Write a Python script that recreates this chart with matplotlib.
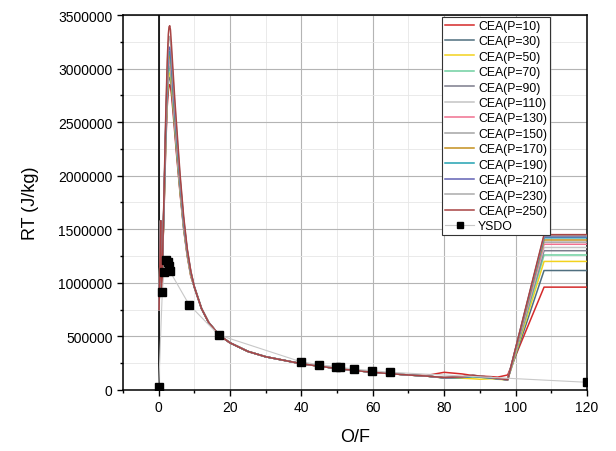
import matplotlib
matplotlib.use("Agg")
import matplotlib.pyplot as plt
from matplotlib.ticker import MultipleLocator, FuncFormatter
from matplotlib.lines import Line2D

plt.rcParams['font.family'] = ['Liberation Sans', 'DejaVu Sans']

# ---------------- data ----------------
pressures = [10, 30, 50, 70, 90, 110, 130, 150, 170, 190, 210, 230, 250]
colors = ['#d42a2a', '#4f6f7f', '#f2d21e', '#6fd0a0', '#7c7c8c', '#c4c4c4',
          '#f07090', '#a4a4a4', '#c4901e', '#22a2b2', '#6262b4', '#ababab',
          '#a84444']

# O/F grid pieces shared by every CEA series
of_low = [0.1, 0.3, 0.55, 0.7, 0.9, 1.1]
of_peak = [1.5, 2.0, 2.4, 2.7, 2.9, 3.1, 3.3, 3.6, 4.0, 4.5, 5.0, 6.0, 7.0, 8.0, 9.0]
of_decay = [10, 12, 14, 17, 20, 25, 30, 40, 50, 60, 70]
of_tail = [75, 80, 85, 88, 90, 93, 95, 97.8]
of_plateau = [108, 120]

# RT values (J/kg)
rt_low = [750000, 1150000, 1580000, 1050000, 920000, 1250000]
rt_decay = [960000, 760000, 630000, 510000, 440000,
            360000, 310000, 245000, 200000, 165000, 140000]

rt_peak = {
    10:  [1680000, 2300000, 2650000, 2790000, 2840000, 2850000, 2830000, 2750000, 2600000, 2400000, 2200000, 1830000, 1500000, 1250000, 1060000],
    30:  [1700000, 2350000, 2710000, 2860000, 2910000, 2920000, 2900000, 2810000, 2650000, 2440000, 2230000, 1850000, 1510000, 1260000, 1070000],
    50:  [1720000, 2380000, 2750000, 2900000, 2950000, 2960000, 2940000, 2850000, 2680000, 2470000, 2260000, 1860000, 1520000, 1260000, 1070000],
    70:  [1730000, 2400000, 2780000, 2940000, 2990000, 3000000, 2980000, 2880000, 2710000, 2490000, 2280000, 1880000, 1530000, 1270000, 1080000],
    90:  [1740000, 2420000, 2810000, 2980000, 3030000, 3040000, 3010000, 2910000, 2740000, 2510000, 2300000, 1890000, 1540000, 1270000, 1080000],
    110: [1750000, 2430000, 2830000, 3000000, 3050000, 3060000, 3030000, 2930000, 2760000, 2530000, 2310000, 1900000, 1550000, 1280000, 1080000],
    130: [1760000, 2440000, 2840000, 3020000, 3070000, 3080000, 3050000, 2950000, 2770000, 2540000, 2320000, 1910000, 1550000, 1280000, 1090000],
    150: [1770000, 2450000, 2860000, 3040000, 3090000, 3100000, 3070000, 2970000, 2790000, 2560000, 2340000, 1920000, 1560000, 1290000, 1090000],
    170: [1780000, 2460000, 2880000, 3070000, 3120000, 3130000, 3100000, 2990000, 2810000, 2570000, 2350000, 1930000, 1570000, 1290000, 1090000],
    190: [1790000, 2480000, 2900000, 3100000, 3150000, 3160000, 3130000, 3020000, 2830000, 2590000, 2370000, 1940000, 1570000, 1300000, 1100000],
    210: [1800000, 2500000, 2930000, 3140000, 3190000, 3200000, 3170000, 3050000, 2860000, 2610000, 2390000, 1950000, 1580000, 1300000, 1100000],
    230: [1820000, 2550000, 3000000, 3230000, 3290000, 3300000, 3260000, 3130000, 2920000, 2660000, 2430000, 1980000, 1600000, 1310000, 1110000],
    250: [1850000, 2600000, 3080000, 3320000, 3390000, 3400000, 3360000, 3210000, 2990000, 2720000, 2480000, 2010000, 1620000, 1320000, 1110000],
}

rt_tail = {
    10:  [135000, 165000, 150000, 135000, 130000, 125000, 120000, 140000],
    30:  [130000, 115000, 120000, 130000, 125000, 115000, 105000, 100000],
    50:  [130000, 112000, 110000, 105000, 100000, 105000, 100000, 95000],
    70:  [130000, 114000, 118000, 125000, 120000, 112000, 105000, 96000],
    90:  [130000, 115000, 122000, 138000, 130000, 118000, 108000, 96000],
    110: [130000, 115000, 120000, 132000, 126000, 116000, 106000, 95000],
    130: [130000, 116000, 121000, 134000, 128000, 117000, 107000, 95000],
    150: [130000, 115000, 121000, 135000, 128000, 117000, 106000, 95000],
    170: [130000, 114000, 118000, 126000, 120000, 112000, 104000, 95000],
    190: [130000, 112000, 116000, 124000, 120000, 112000, 104000, 95000],
    210: [130000, 114000, 119000, 130000, 125000, 115000, 105000, 95000],
    230: [130000, 115000, 121000, 136000, 129000, 118000, 107000, 95000],
    250: [130000, 116000, 122000, 137000, 130000, 118000, 108000, 96000],
}

rt_plateau = {10: 960000, 30: 1115000, 50: 1200000, 70: 1260000, 90: 1300000,
              110: 1330000, 130: 1360000, 150: 1380000, 170: 1400000,
              190: 1420000, 210: 1430000, 230: 1440000, 250: 1450000}

of_ysdo = [0, 1.0, 1.5, 1.95, 2.5, 2.9, 3.1, 8.5, 16.8, 39.8, 44.8, 49.8,
           50.8, 54.8, 59.9, 64.9, 120]
rt_ysdo = [30000, 910000, 1105000, 1210000, 1190000, 1160000, 1110000,
           797000, 514000, 264000, 236000, 218000, 212000, 196000, 180000,
           165000, 72000]

# ---------------- plot ----------------
fig = plt.figure(figsize=(6.16, 4.52), dpi=100)
ax = fig.add_axes([0.1997, 0.135, 0.753, 0.8296])

of_all = of_low + of_peak + of_decay + of_tail + of_plateau
handles = []
for p, c in zip(pressures, colors):
    rt = rt_low + rt_peak[p] + rt_decay + rt_tail[p] + [rt_plateau[p]] * len(of_plateau)
    ln, = ax.plot(of_all, rt, color=c, lw=1.1, label=f'CEA(P={p})', zorder=3)
    handles.append(ln)

ax.plot(of_ysdo, rt_ysdo, color='#c8c8c8', lw=0.8, zorder=4)
ax.plot(of_ysdo, rt_ysdo, ls='none', marker='s', ms=6, color='black', zorder=5)
handles.append(Line2D([], [], color='#c8c8c8', lw=0.8, marker='s', ms=5,
                      markerfacecolor='black', markeredgecolor='black',
                      label='YSDO'))

ax.axvline(0, color='black', lw=1.2, zorder=2)

ax.set_xlim(-10, 120)
ax.set_ylim(0, 3500000)
ax.xaxis.set_major_locator(MultipleLocator(20))
ax.xaxis.set_minor_locator(MultipleLocator(10))
ax.yaxis.set_major_locator(MultipleLocator(500000))
ax.yaxis.set_minor_locator(MultipleLocator(250000))
ax.yaxis.set_major_formatter(FuncFormatter(lambda v, pos: f'{int(round(v))}'))

ax.grid(True, which='major', color='#b4b4b4', lw=0.8, zorder=0)
ax.grid(True, which='minor', color='#e6e6e6', lw=0.6, zorder=0)
ax.set_axisbelow(True)

ax.tick_params(which='major', direction='out', length=4, width=1.0,
               labelsize=10, top=False, right=False)
ax.tick_params(which='minor', direction='out', length=2.5, width=1.0,
               top=False, right=False)
for s in ax.spines.values():
    s.set_linewidth(1.1)
    s.set_color('black')

ax.set_xlabel('O/F', fontsize=13, labelpad=10)
ax.set_ylabel('RT (J/kg)', fontsize=13, labelpad=14)

leg = ax.legend(handles=handles, loc='upper right',
                bbox_to_anchor=(0.921, 0.995), fontsize=8.8,
                handlelength=2.4, handletextpad=0.3, labelspacing=0.28,
                borderpad=0.25, borderaxespad=0.0, fancybox=False,
                framealpha=1.0, edgecolor='#333333')
leg.get_frame().set_linewidth(0.8)

fig.savefig('out.png', dpi=100)
